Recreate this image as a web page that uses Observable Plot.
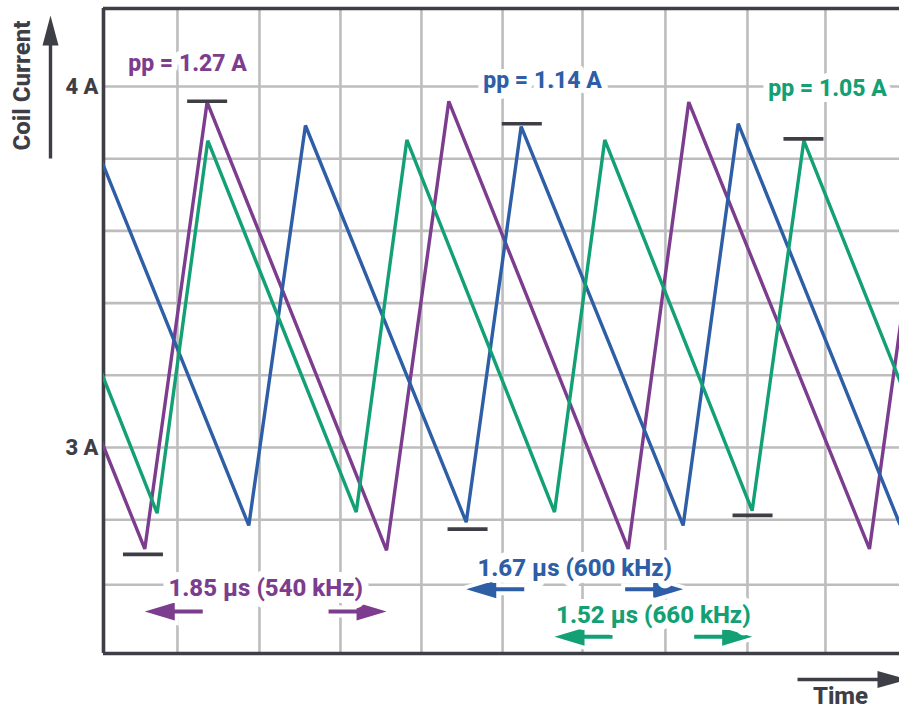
<!DOCTYPE html>
<html><head><meta charset="utf-8">
<script src="https://cdn.jsdelivr.net/npm/d3@7"></script>
<script src="https://cdn.jsdelivr.net/npm/@observablehq/plot@0.6"></script>
<style>
html,body{margin:0;padding:0;background:#fff;overflow:hidden;}
#chart svg{display:block;}
</style></head><body><div id="chart"></div>
<script>
// ---------- data (time in µs, coil current in A) ----------
const seriesNames = ["540 kHz", "600 kHz", "660 kHz"];
const seriesColors = ["#7d3d8e", "#2d5ea6", "#12a074"];

// triangle-wave vertices (valleys / peaks) of each coil current
const purpleT = [-1.064, 0.317, 0.796, 2.174, 2.652, 4.030, 4.495, 5.883, 6.358];
const purpleA = [3.957, 2.719, 3.957, 2.715, 3.959, 2.719, 3.957, 2.719, 3.957];
const blueT   = [-0.125, 1.116, 1.551, 2.786, 3.208, 4.452, 4.875, 6.118, 6.545];
const blueA   = [3.892, 2.784, 3.892, 2.793, 3.889, 2.784, 3.897, 2.786, 3.893];
const greenT  = [-0.722, 0.412, 0.801, 1.941, 2.330, 3.464, 3.850, 4.982, 5.379, 6.518];
const greenA  = [3.850, 2.818, 3.850, 2.821, 3.852, 2.821, 3.852, 2.825, 3.850, 2.822];

// peak-to-peak measurement levels (time of the marked vertex, level)
const markerSeries = ["540 kHz", "540 kHz", "600 kHz", "600 kHz", "660 kHz", "660 kHz"];
const markerT = [0.796, 0.303, 3.213, 2.796, 5.376, 4.985];
const markerA = [3.959, 2.704, 3.897, 2.774, 3.855, 2.812];

const ppLabels = ["pp = 1.27 A", "pp = 1.14 A", "pp = 1.05 A"];
const periodLabels = ["1.85 µs (540 kHz)", "1.67 µs (600 kHz)", "1.52 µs (660 kHz)"];
// which valleys (vertex index) bound the marked period of each series
const periodFrom = [1, 3, 5];
const periodTo   = [3, 5, 7];

const yTicks = [3, 4];
const yTickLabels = ["3 A", "4 A"];
const gridT = [0.568, 1.198, 1.820, 2.442, 3.065, 3.679, 4.316, 4.946, 5.545];
const gridA = [2.62, 2.8, 3.0, 3.2, 3.4, 3.6, 3.8, 4.0];

// ---------- layout ----------
const W = 899, H = 709;
const mL = 103, mR = 0, mT = 8, mB = 56;
const pxPerUs = 130.2, pxPerA = 361;
const xDomain = [0, (W - mL - mR) / pxPerUs];
const yDomain = [3 - (H - mB - 447) / pxPerA, 4 + (86 - mT) / pxPerA];

const tArr = [purpleT, blueT, greenT];
const aArr = [purpleA, blueA, greenA];
const waves = [];
seriesNames.forEach((s, k) => tArr[k].forEach((t, i) => waves.push({s, t, a: aArr[k][i]})));
const markers = markerT.map((t, i) => ({s: markerSeries[i], t, a: markerA[i]}));

// annotation placement (layout)
const ppAt = [[0.645, 4.064], [3.372, 4.017], [5.561, 3.994]];
const periodTextA = [2.609, 2.665, 2.535];
const periodArrowA = [2.546, 2.607, 2.476];
const periods = seriesNames.map((s, k) => ({
  s, label: periodLabels[k],
  t1: tArr[k][periodFrom[k]], t2: tArr[k][periodTo[k]],
  ta: periodTextA[k], aa: periodArrowA[k]
}));
const arrowEnds = periods.flatMap(p => [{s: p.s, t: p.t1, a: p.aa, dir: "L"}, {s: p.s, t: p.t2, a: p.aa, dir: "R"}]);

// custom symbols
const arrowL = {draw(c) { c.moveTo(0,0); c.lineTo(30,-9); c.lineTo(30,-2); c.lineTo(58,-2); c.lineTo(58,2); c.lineTo(30,2); c.lineTo(30,9); c.closePath(); }};
const arrowR = {draw(c) { c.moveTo(0,0); c.lineTo(-30,-9); c.lineTo(-30,-2); c.lineTo(-58,-2); c.lineTo(-58,2); c.lineTo(-30,2); c.lineTo(-30,9); c.closePath(); }};
const hbar = {draw(c) { c.moveTo(-20,0); c.lineTo(20,0); }};
const upArrow = {draw(c) { c.moveTo(-1.7,0); c.lineTo(-1.7,-113); c.lineTo(-8,-113); c.lineTo(0,-143); c.lineTo(8,-113); c.lineTo(1.7,-113); c.lineTo(1.7,0); c.closePath(); }};
const rightArrow = {draw(c) { c.moveTo(0,-1.7); c.lineTo(80,-1.7); c.lineTo(80,-8.5); c.lineTo(110,0); c.lineTo(80,8.5); c.lineTo(80,1.7); c.lineTo(0,1.7); c.closePath(); }};

const dark = "#3e3e46";
const font = "Roboto, 'Noto Sans', sans-serif";
const colorOf = s => seriesColors[seriesNames.indexOf(s)];

const chart = Plot.plot({
  width: W, height: H,
  marginLeft: mL, marginRight: mR, marginTop: mT, marginBottom: mB,
  style: {fontFamily: font, background: "#fff", overflow: "visible"},
  x: {domain: xDomain, axis: null},
  y: {domain: yDomain, axis: null},
  color: {domain: seriesNames, range: seriesColors},
  marks: [
    Plot.gridX(gridT, {stroke: "#bdbdbd", strokeOpacity: 1, strokeWidth: 2.6}),
    Plot.gridY(gridA, {stroke: "#bdbdbd", strokeOpacity: 1, strokeWidth: 2.6}),
    Plot.ruleX([xDomain[0]], {stroke: dark, strokeWidth: 3.6}),
    Plot.ruleY(yDomain, {stroke: dark, strokeWidth: 3.6}),
    Plot.line(waves, {x: "t", y: "a", z: "s", stroke: "s", strokeWidth: 3.4, clip: true, strokeLinejoin: "miter", strokeMiterlimit: 3}),
    Plot.dot(markers, {x: "t", y: "a", symbol: hbar, stroke: dark, strokeWidth: 3.6, fill: "none"}),
    // pp labels
    Plot.text(ppLabels, {x: (d, i) => ppAt[i][0], y: (d, i) => ppAt[i][1], text: d => d,
      fill: (d, i) => seriesColors[i], fontSize: 23, fontWeight: 800,
      stroke: "white", strokeWidth: 12, paintOrder: "stroke", strokeLinejoin: "round"}),
    // period arrows
    Plot.dot(arrowEnds, {x: "t", y: "a", symbol: d => d.dir === "L" ? arrowL : arrowR,
      fill: d => colorOf(d.s), stroke: "white", strokeWidth: 8, paintOrder: "stroke"}),
    Plot.text(periods, {x: d => (d.t1 + d.t2) / 2, y: "ta", text: "label",
      fill: d => colorOf(d.s), fontSize: 24, fontWeight: 800,
      stroke: "white", strokeWidth: 14, paintOrder: "stroke", strokeLinejoin: "round"}),
    // y tick labels
    Plot.text(yTicks, {x: xDomain[0], y: d => d, text: (d, i) => yTickLabels[i], textAnchor: "end", dx: -5,
      fill: dark, fontSize: 22, fontWeight: 800}),
    // axis titles with arrows
    Plot.dot([0], {x: null, y: null, frameAnchor: "top-left", dx: -53, dy: 150, symbol: upArrow, fill: dark, stroke: "none"}),
    Plot.text(["Coil Current"], {frameAnchor: "top-left", dx: -81, dy: 77, rotate: -90, text: d => d,
      textAnchor: "middle", lineAnchor: "middle",
      fill: dark, fontSize: 24, fontWeight: 800}),
    Plot.dot([0], {x: null, y: null, frameAnchor: "bottom-right", dx: -102, dy: 26, symbol: rightArrow, fill: dark, stroke: "none"}),
    Plot.text(["Time"], {frameAnchor: "bottom-right", dx: -59, dy: 43, text: d => d,
      textAnchor: "middle", lineAnchor: "middle",
      fill: dark, fontSize: 24, fontWeight: 800})
  ]
});
document.getElementById("chart").appendChild(chart);
</script></body></html>
